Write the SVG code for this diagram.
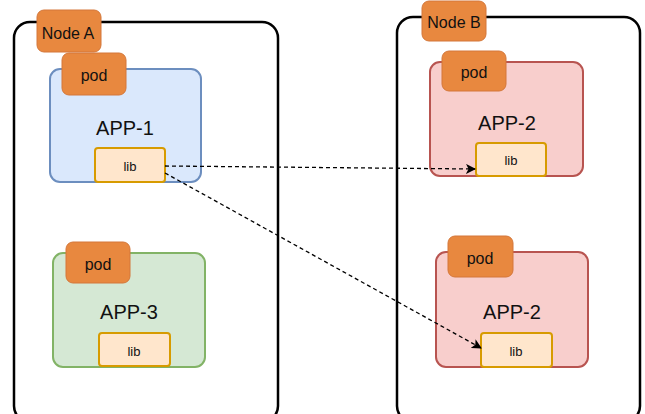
<svg xmlns="http://www.w3.org/2000/svg" width="645" height="414" viewBox="0 0 645 414">
<defs>
<style>
.node{fill:#ffffff;stroke:#000;stroke-width:2.5}
.tag{fill:#e8883f;stroke:#d4773a;stroke-width:1}
.app1{fill:#dae8fc;stroke:#6c8ebf;stroke-width:2}
.app2{fill:#f8cecc;stroke:#b85450;stroke-width:2}
.app3{fill:#d5e8d4;stroke:#82b366;stroke-width:2}
.lib{fill:#ffe6cc;stroke:#d79b00;stroke-width:2}
text{font-family:"Liberation Sans",Arial,sans-serif;fill:#111;text-anchor:middle;dominant-baseline:central}
.t14{font-size:16px}
.t18{font-size:20px}
.t12{font-size:13px}
.conn{fill:none;stroke:#000;stroke-width:1.3;stroke-dasharray:4 3}
</style>
<marker id="arr" markerWidth="10" markerHeight="10" refX="9" refY="5" orient="auto" markerUnits="userSpaceOnUse">
<path d="M0,0 L10,5 L0,10 L2.5,5 Z" fill="#000"/>
</marker>
</defs>
<rect width="645" height="414" fill="#fff"/>

<g id="nodeA">
<rect class="node" x="14" y="22" width="264" height="400" rx="16"/>
<rect class="tag" x="37" y="10" width="64" height="42" rx="7"/>
<text class="t14" x="68" y="33">Node A</text>
</g>
<g id="nodeB">
<rect class="node" x="397" y="17" width="243" height="405" rx="16"/>
<rect class="tag" x="422" y="1" width="64" height="40" rx="7"/>
<text class="t14" x="454" y="22">Node B</text>
</g>

<g id="app1">
<rect class="app1" x="50" y="69" width="151" height="113" rx="10"/>
<rect class="tag" x="62" y="53" width="64" height="42" rx="7"/>
<text class="t14" x="94" y="75">pod</text>
<text class="t18" x="125" y="128">APP-1</text>
</g>
<g id="lib1">
<rect class="lib" x="95" y="148" width="70" height="34" rx="3"/>
<text class="t12" x="130" y="166">lib</text>
</g>

<g id="app3">
<rect class="app3" x="53" y="253" width="152" height="114" rx="10"/>
<rect class="tag" x="66" y="242" width="64" height="41" rx="7"/>
<text class="t14" x="98" y="264">pod</text>
<text class="t18" x="129" y="312">APP-3</text>
</g>
<g id="lib3">
<rect class="lib" x="99" y="333" width="71" height="33" rx="3"/>
<text class="t12" x="134" y="351">lib</text>
</g>

<g id="app2a">
<rect class="app2" x="430" y="62" width="153" height="114" rx="10"/>
<rect class="tag" x="442" y="51" width="64" height="40" rx="7"/>
<text class="t14" x="474" y="72">pod</text>
<text class="t18" x="507" y="123">APP-2</text>
</g>
<g id="lib2a">
<rect class="lib" x="476" y="143" width="70" height="33" rx="3"/>
<text class="t12" x="511" y="160">lib</text>
</g>

<g id="app2b">
<rect class="app2" x="436" y="252" width="152" height="115" rx="10"/>
<rect class="tag" x="448" y="236" width="65" height="41" rx="7"/>
<text class="t14" x="480" y="258">pod</text>
<text class="t18" x="512" y="312">APP-2</text>
</g>
<g id="lib2b">
<rect class="lib" x="481" y="333" width="71" height="34" rx="3"/>
<text class="t12" x="516" y="351">lib</text>
</g>

<g id="connectors">
<path class="conn" d="M165,166 L475,169" marker-end="url(#arr)"/>
<path class="conn" d="M165,173 L481,348" marker-end="url(#arr)"/>
</g>
</svg>
